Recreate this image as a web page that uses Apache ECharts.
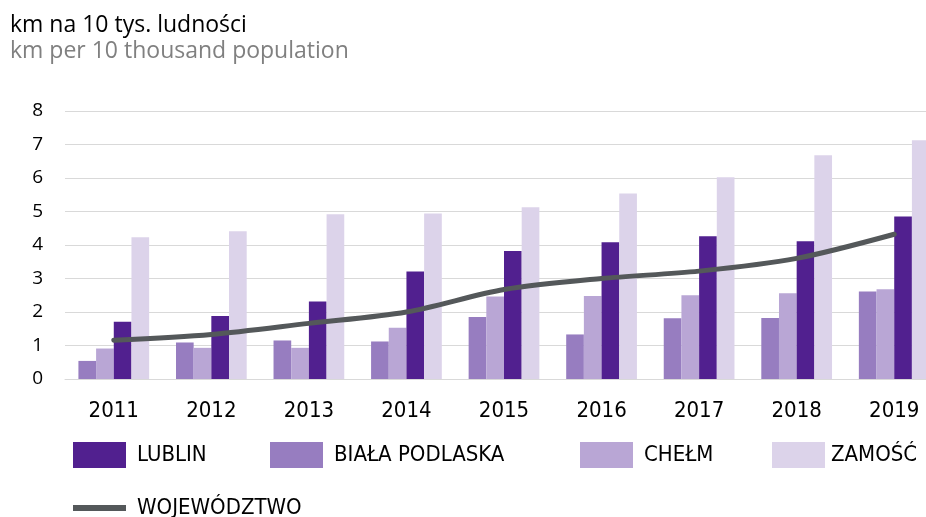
<!DOCTYPE html>
<html>
<head>
<meta charset="utf-8">
<script src="https://cdn.jsdelivr.net/npm/echarts@6/dist/echarts.min.js"></script>
<style>
  html, body { margin: 0; padding: 0; background: #fff; }
  #chart { width: 926px; height: 517px; }
</style>
</head>
<body>
<div id="chart"></div>
<script>
const years = ["2011", "2012", "2013", "2014", "2015", "2016", "2017", "2018", "2019"];
const lublin = [1.71, 1.88, 2.31, 3.21, 3.82, 4.08, 4.26, 4.11, 4.85];
const bialaPodlaska = [0.54, 1.09, 1.15, 1.12, 1.85, 1.33, 1.81, 1.82, 2.61];
const chelm = [0.91, 0.93, 0.93, 1.53, 2.46, 2.48, 2.50, 2.56, 2.68];
const zamosc = [4.23, 4.41, 4.92, 4.94, 5.13, 5.54, 6.02, 6.68, 7.13];
const wojewodztwo = [1.16, 1.33, 1.66, 2.00, 2.67, 3.00, 3.22, 3.60, 4.32];
const yTicks = [0, 8, 1];

const narrow = '"Liberation Sans Narrow", "DejaVu Sans Condensed", sans-serif';
const regular = '"Open Sans", "Noto Sans", sans-serif';

// one legend per item, so each sits where the reference has it
function legendItem(name, left, top, opts) {
    return Object.assign({
        data: [name],
        left: left,
        top: top,
        padding: 0,
        itemWidth: 53,
        itemHeight: 26,
        icon: 'rect',
        selectedMode: false,
        textStyle: {fontFamily: narrow, fontSize: 22, color: '#000', lineHeight: 26, padding: [0, 0, 0, 6]}
    }, opts || {});
}

const chart = echarts.init(document.getElementById('chart'));
chart.setOption({
    animation: false,
    title: {
        text: 'km na 10 tys. ludności',
        subtext: 'km per 10 thousand population',
        left: 10,
        top: 12,
        padding: 0,
        itemGap: 0,
        textStyle: {fontFamily: regular, fontSize: 23, fontWeight: 'normal', color: '#000', lineHeight: 26},
        subtextStyle: {fontFamily: regular, fontSize: 23, color: '#808080', lineHeight: 26}
    },
    legend: [
        legendItem('LUBLIN', 73, 442),
        legendItem('BIAŁA PODLASKA', 270, 442),
        legendItem('CHEŁM', 580, 442),
        legendItem('ZAMOŚĆ', 772, 442, {textStyle: {fontFamily: narrow, fontSize: 22, color: '#000', lineHeight: 26, padding: [0, 0, 0, 1]}}),
        legendItem('WOJEWÓDZTWO', 73, 495, {itemHeight: 6})
    ],
    grid: {left: 65, width: 878, top: 111, bottom: 138, outerBoundsMode: 'none'},
    xAxis: {
        type: 'category',
        data: years,
        axisLine: {lineStyle: {color: '#d9d9d9', width: 1}},
        axisTick: {show: false},
        axisLabel: {fontFamily: narrow, fontSize: 22, color: '#000', margin: 21, lineHeight: 22}
    },
    yAxis: {
        type: 'value',
        min: yTicks[0],
        max: yTicks[1],
        interval: yTicks[2],
        axisLine: {show: false},
        axisTick: {show: false},
        axisLabel: {fontFamily: regular, fontSize: 19, color: '#000', margin: 22},
        splitLine: {lineStyle: {color: '#d9d9d9', width: 1}}
    },
    series: [
        {name: 'BIAŁA PODLASKA', type: 'bar', data: bialaPodlaska, barGap: '0%', barCategoryGap: '27.5%',
            itemStyle: {color: '#977dc0'}},
        {name: 'CHEŁM', type: 'bar', data: chelm, itemStyle: {color: '#b9a6d5'}},
        {name: 'LUBLIN', type: 'bar', data: lublin, itemStyle: {color: '#51208f'}},
        {name: 'ZAMOŚĆ', type: 'bar', data: zamosc, itemStyle: {color: '#dcd3ea'}},
        {name: 'WOJEWÓDZTWO', type: 'line', data: wojewodztwo, smooth: 0.3, symbol: 'none', z: 5,
            itemStyle: {color: '#54585a'},
            lineStyle: {color: '#54585a', width: 5, cap: 'round'}}
    ]
});
</script>
</body>
</html>
